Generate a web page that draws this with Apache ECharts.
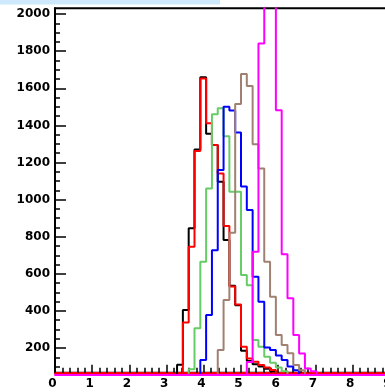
<!DOCTYPE html>
<html>
<head>
<meta charset="utf-8">
<script src="https://cdn.jsdelivr.net/npm/echarts@6/dist/echarts.min.js"></script>
<style>
  html, body { margin: 0; padding: 0; background: #ffffff; }
  #chart { width: 385px; height: 392px; }
</style>
</head>
<body>
<div id="chart"></div>
<script>
// Binning shared by all histograms: 64 equal bins over [0, 10]
const xMin = 0;
const xMax = 10;
const nBins = 64;
// Each count list below starts at this bin index; bins outside the lists are empty
const firstBin = 20;

const countsBlack   = [0, 110, 405, 845, 1270, 1660, 1355, 1294, 1096, 782, 535, 430, 185, 130, 112, 100, 88, 75, 0, 0, 0, 0, 0, 0, 0, 0];
const countsRed     = [0, 0, 338, 746, 1262, 1652, 1411, 1294, 1141, 858, 532, 435, 207, 144, 126, 108, 95, 81, 0, 0, 0, 0, 0, 0, 0, 0];
const countsGreen   = [0, 0, 0, 85, 306, 665, 1060, 1460, 1492, 1342, 1042, 1042, 593, 539, 243, 207, 153, 120, 95, 75, 0, 0, 0, 0, 0, 0];
const countsBlue    = [0, 0, 0, 0, 0, 135, 378, 727, 1159, 1500, 1480, 1362, 1070, 944, 584, 449, 203, 190, 160, 135, 100, 80, 0, 0, 0, 0];
const countsBrown   = [0, 0, 0, 0, 0, 0, 0, 0, 190, 459, 821, 1515, 1677, 1612, 1298, 1168, 665, 476, 270, 216, 172, 108, 80, 0, 0, 0];
const countsMagenta = [0, 0, 0, 0, 0, 0, 0, 0, 0, 0, 0, 0, 0, 125, 719, 1841, 2600, 2450, 1482, 705, 468, 270, 170, 90, 75, 0];

const xTicks = [0, 1, 2, 3, 4, 5, 6, 7, 8, 9, 10];
const yTicks = [200, 400, 600, 800, 1000, 1200, 1400, 1600, 1800, 2000];
const yMin = 67;
const yMax = 2031;

// secondary ticks on the count axis, every 50
const yMinorTicks = [];
for (let v = 100; v <= 2000; v += 50) {
  if (yTicks.indexOf(v) < 0) yMinorTicks.push(v);
}

// Turn a count list into step points at the left edge of every bin
function histPoints(counts) {
  const w = (xMax - xMin) / nBins;
  const pts = [];
  for (let k = 0; k < nBins; k++) {
    const i = k - firstBin;
    const c = (i >= 0 && i < counts.length) ? counts[i] : 0;
    pts.push([xMin + k * w, c]);
  }
  pts.push([xMax, 0]);
  return pts;
}

const histos = [
  { name: 'black',   color: '#000000', counts: countsBlack },
  { name: 'red',     color: '#ff0000', counts: countsRed },
  { name: 'green',   color: '#66cc66', counts: countsGreen },
  { name: 'blue',    color: '#0000ff', counts: countsBlue },
  { name: 'brown',   color: '#a08070', counts: countsBrown },
  { name: 'magenta', color: '#ff00ff', counts: countsMagenta }
];

const labelFont = {
  color: '#000000',
  fontFamily: 'DejaVu Sans',
  fontWeight: 'bold',
  fontSize: 12,
  formatter: function (v) { return String(v); }
};

const chart = echarts.init(document.getElementById('chart'), null, { renderer: 'canvas' });

chart.setOption({
  animation: false,
  backgroundColor: '#ffffff',
  graphic: [{
    type: 'rect',
    left: 0,
    top: 0,
    silent: true,
    shape: { width: 220, height: 4.5 },
    style: { fill: '#cde9fb' }
  }],
  grid: {
    left: 55,
    top: 8.3,
    right: -42,
    bottom: 19.3,
    containLabel: false,
    outerBoundsMode: 'none',
    show: true,
    backgroundColor: 'transparent',
    borderColor: '#000000',
    borderWidth: 2
  },
  xAxis: {
    type: 'value',
    min: xMin,
    max: xMax,
    interval: 1,
    axisLine: {
      show: true,
      onZero: false,
      lineStyle: { color: '#ff0000', width: 2, shadowColor: '#ff00ff', shadowOffsetY: 2, shadowBlur: 0 }
    },
    axisTick: {
      show: true,
      inside: true,
      length: 8,
      customValues: xTicks,
      lineStyle: { color: '#000000', width: 1.5 }
    },
    minorTick: {
      show: true,
      splitNumber: 5,
      length: 5,
      lineStyle: { color: '#000000', width: 1.5 }
    },
    splitLine: { show: false },
    minorSplitLine: { show: false },
    axisLabel: Object.assign({ margin: 5, padding: [0, 5, 0, 0], customValues: xTicks }, labelFont)
  },
  yAxis: [{
    type: 'value',
    min: yMin,
    max: yMax,
    position: 'left',
    axisLine: { show: true, onZero: false, lineStyle: { color: '#000000', width: 2 } },
    axisTick: {
      show: true,
      inside: true,
      length: 11,
      customValues: yTicks,
      lineStyle: { color: '#000000', width: 1.5 }
    },
    splitLine: { show: false },
    axisLabel: Object.assign({ margin: 5, customValues: yTicks }, labelFont)
  }, {
    type: 'value',
    min: yMin,
    max: yMax,
    position: 'left',
    offset: 0,
    axisLine: { show: false },
    axisTick: {
      show: true,
      inside: true,
      length: 5,
      customValues: yMinorTicks,
      lineStyle: { color: '#000000', width: 1.5 }
    },
    splitLine: { show: false },
    axisLabel: { show: false }
  }],
  series: histos.map(function (h, idx) {
    return {
      name: h.name,
      type: 'line',
      step: 'end',
      yAxisIndex: 0,
      data: histPoints(h.counts),
      showSymbol: false,
      symbol: 'none',
      clip: true,
      z: 2 + idx,
      lineStyle: { color: h.color, width: 2 },
      itemStyle: { color: h.color }
    };
  })
});
</script>
</body>
</html>
